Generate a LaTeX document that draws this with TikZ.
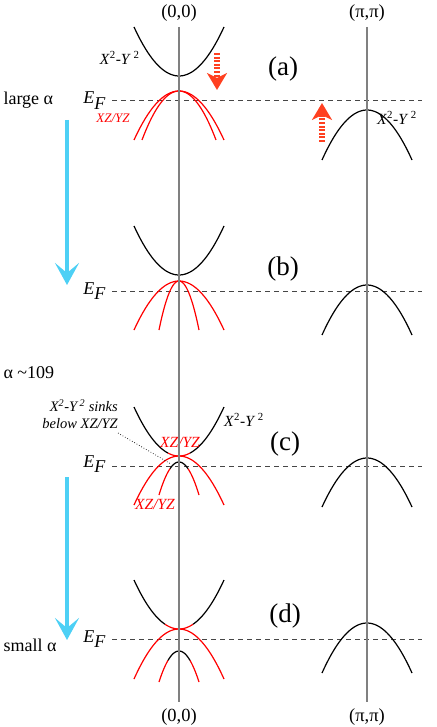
\documentclass[tikz,border=0pt]{standalone}
\usepackage{fontspec}
\setmainfont{Liberation Serif}
\usetikzlibrary{arrows.meta}
\definecolor{arrred}{RGB}{255,64,32}
\definecolor{cyanarr}{RGB}{77,208,245}
\definecolor{axgray}{RGB}{128,128,128}
\definecolor{efgray}{RGB}{70,70,70}
\newcommand\XYlab{\textit{X}\textsuperscript{2}-\textit{Y}\,\textsuperscript{2}}
\newcommand\EFlab{\textit{E}\raisebox{-0.3em}{\textit{F}}}
\begin{document}
\begin{tikzpicture}[x=1pt,y=-1pt,
  band/.style={line width=1.2pt},
  redband/.style={line width=1.2pt, red},
  axis/.style={line width=1.4pt, axgray},
  fermi/.style={line width=0.9pt, efgray, dash pattern=on 5pt off 4pt},
  bigarrow/.style={line width=4pt, cyanarr, -{Stealth[length=22pt,width=24pt,inset=10pt]}},
  shiftarrow/.style={line width=6.5pt, arrred, dash pattern=on 2pt off 1.6pt, -{Stealth[length=17pt,width=20pt,inset=5pt]}},
  kl/.style={font=\fontsize{18.5}{20}\selectfont},
  panel/.style={font=\fontsize{27}{30}\selectfont},
  efl/.style={font=\fontsize{18}{20}\selectfont, anchor=base east},
  side/.style={font=\fontsize{18}{20}\selectfont, anchor=west},
  bl/.style={font=\fontsize{15.5}{17}\selectfont},
  rl/.style={font=\fontsize{13}{15}\itshape\selectfont, red},
  rlc/.style={font=\fontsize{15.5}{17}\itshape\selectfont, red},
  sl/.style={font=\fontsize{14.5}{17}\itshape\selectfont, align=right, inner sep=1pt}]
\useasboundingbox (0,0) rectangle (436,727);
% k labels
\node[kl] (k0t) at (179,13) {(0,0)};
\node[kl] (kpt) at (367,13) {(π,π)};
\node[kl] (k0b) at (179,717) {(0,0)};
\node[kl] (kpb) at (367,717) {(π,π)};
% ---------- panel (a)
\draw[fermi] (112,100) -- (422,100);
\node[efl] (efa) at (109,104) {\EFlab};
\draw[band] plot[domain=-45:45,samples=40] ({179+\x},{76-49*(\x/45)^2});
\draw[redband] plot[domain=-45:45,samples=40] ({179+\x},{91+49*(\x/45)^2});
\draw[redband] plot[domain=-37:37,samples=40] ({179+\x},{91+49*(\x/37)^2});
\draw[band] plot[domain=-45:45,samples=40] ({367+\x},{110+50*(\x/45)^2});
\node[bl, anchor=east] (xya) at (143,58) {\XYlab};
\node[rl] (xza) at (113,118) {XZ/YZ};
\node[bl] (xyap) at (397,118) {\XYlab};
\node[panel] (pa) at (283,69) {(a)};
\node[side] (large) at (0,100) {large α};
\coordinate (dn1) at (217,53); \coordinate (dn2) at (217,90);
\draw[shiftarrow] (dn1) -- (dn2);
\coordinate (up1) at (322,142); \coordinate (up2) at (322,103);
\draw[shiftarrow] (up1) -- (up2);
\coordinate (ba1) at (67,120); \coordinate (ba2) at (67,285);
\draw[bigarrow] (ba1) -- (ba2);
% ---------- panel (b)
\draw[fermi] (112,291) -- (422,291);
\node[efl] (efb) at (109,294) {\EFlab};
\draw[band] plot[domain=-45:45,samples=40] ({179+\x},{275-49*(\x/45)^2});
\draw[redband] plot[domain=-45:45,samples=40] ({179+\x},{281+49*(\x/45)^2});
\draw[redband] plot[domain=-20:20,samples=40] ({179+\x},{281+49*(\x/20)^2});
\draw[band] plot[domain=-45:45,samples=40] ({367+\x},{285+50*(\x/45)^2});
\node[panel] (pb) at (283,269) {(b)};
% ---------- panel (c)
\node[side] (mid) at (0,373) {α \textasciitilde109};
\draw[fermi] (112,466) -- (422,466);
\node[efl] (efc) at (109,467) {\EFlab};
\draw[redband] plot[domain=-45:45,samples=40] ({179+\x},{456+49*(\x/45)^2});
\draw[band] plot[domain=-45:-11,samples=30] ({179+\x},{456-49*(\x/45)^2});
\draw[band] plot[domain=11:45,samples=30] ({179+\x},{456-49*(\x/45)^2});
\draw[redband] plot[domain=-11:11,samples=20] ({179+\x},{456-49*(\x/45)^2});
\draw[redband] plot[domain=-20:-9,samples=20] ({179+\x},{462+33*(\x/20)^2});
\draw[redband] plot[domain=9:20,samples=20] ({179+\x},{462+33*(\x/20)^2});
\draw[band] plot[domain=-9:9,samples=20] ({179+\x},{462+33*(\x/20)^2});
\draw[band] plot[domain=-45:45,samples=40] ({367+\x},{458+49*(\x/45)^2});
\node[rlc] (xzc1) at (180,442) {XZ/YZ};
\node[rlc] (xzc2) at (155,504) {XZ/YZ};
\node[bl] (xyc) at (244,420) {\XYlab};
\node[sl, anchor=east] (sinks) at (119,414) {\XYlab{} sinks\\below XZ/YZ};
\coordinate (sinkstart) at (118,433);
\coordinate (sinkend) at (171,464);
\draw[dotted, line width=0.7pt] (sinkstart) -- (sinkend);
\node[panel] (pc) at (285,444) {(c)};
\coordinate (bc1) at (67,477); \coordinate (bc2) at (67,640);
\draw[bigarrow] (bc1) -- (bc2);
% ---------- panel (d)
\node[side] (small) at (0,645) {small α};
\draw[fermi] (112,639) -- (422,639);
\node[efl] (efd) at (109,642) {\EFlab};
\draw[redband] plot[domain=-45:45,samples=40] ({179+\x},{629+50*(\x/45)^2});
\draw[band] plot[domain=-45:-14,samples=30] ({179+\x},{629-49*(\x/45)^2});
\draw[band] plot[domain=14:45,samples=30] ({179+\x},{629-49*(\x/45)^2});
\draw[redband] plot[domain=-14:14,samples=20] ({179+\x},{629-49*(\x/45)^2});
\draw[redband] plot[domain=-20:-11,samples=20] ({179+\x},{651+31*(\x/20)^2});
\draw[redband] plot[domain=11:20,samples=20] ({179+\x},{651+31*(\x/20)^2});
\draw[band] plot[domain=-11:11,samples=20] ({179+\x},{651+31*(\x/20)^2});
\draw[band] plot[domain=-45:45,samples=40] ({367+\x},{623+50*(\x/45)^2});
\node[panel] (pd) at (285,616) {(d)};
% axes
\coordinate (a0t) at (179,27); \coordinate (a0b) at (179,702);
\coordinate (apt) at (367,27); \coordinate (apb) at (367,702);
\draw[axis] (a0t) -- (a0b);
\draw[axis] (apt) -- (apb);
\end{tikzpicture}
\end{document}
